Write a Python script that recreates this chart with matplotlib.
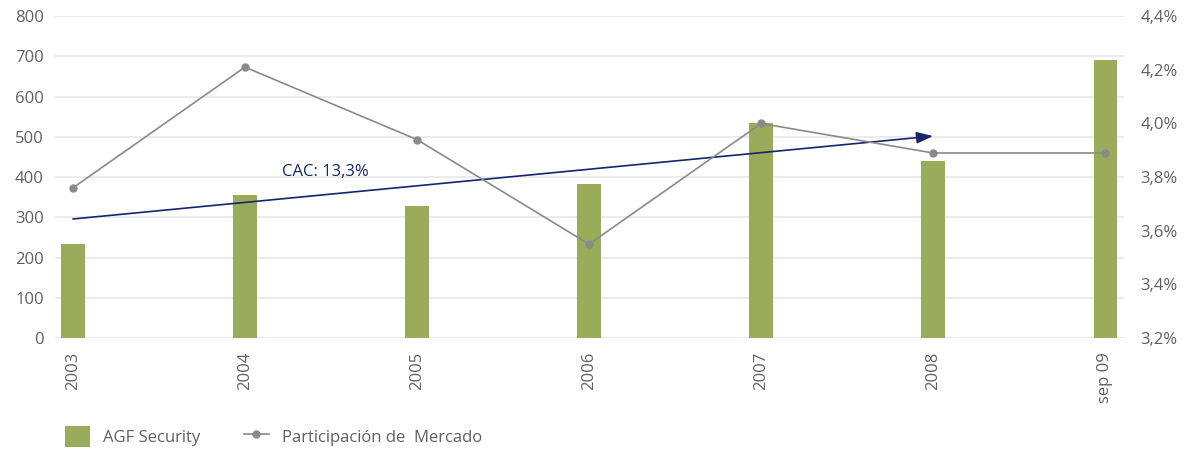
import numpy as np
import matplotlib.pyplot as plt
from matplotlib.ticker import FuncFormatter

plt.rcParams['font.family'] = ['Open Sans', 'DejaVu Sans']

years = ['2003', '2004', '2005', '2006', '2007', '2008', 'sep 09']
agf = [234, 355, 328, 383, 534, 440, 691]
share = [3.76, 4.21, 3.94, 3.55, 4.00, 3.89, 3.89]
cac_start = 296
cac_end = 502
cac_label = 'CAC: 13,3%'

green = '#9aab5a'
grey = '#8a8a8a'
navy = '#15246b'
tick_col = '#606060'

fig = plt.figure(figsize=(11.92, 4.49), dpi=100)
ax1 = fig.add_axes([0.046, 0.247, 0.897, 0.717])
x = np.arange(len(years))

ax1.bar(x, agf, width=0.135, color=green, label='AGF Security', zorder=2)
ax1.set_ylim(0, 800)
ax1.set_yticks(range(0, 801, 100))
ax1.set_xlim(-0.105, 6.11)
ax1.set_xticks(x)
ax1.set_xticklabels(years, rotation=90)
ax1.grid(axis='y', color='#e8e8e8', linewidth=1.2, zorder=0)
ax1.set_axisbelow(True)
for s in ax1.spines.values():
    s.set_visible(False)
ax1.tick_params(length=0, labelsize=12, colors=tick_col, pad=8)
ax1.tick_params(axis='x', pad=10)

ax2 = ax1.twinx()
ax2.plot(x, share, color=grey, linewidth=1.2, marker='o', markersize=5,
         label='Participación de  Mercado', zorder=3)
ax2.set_ylim(3.2, 4.4)
ax2.set_yticks(np.arange(3.2, 4.41, 0.2))
ax2.yaxis.set_major_formatter(FuncFormatter(lambda v, p: f'{v:.1f}%'.replace('.', ',')))
for s in ax2.spines.values():
    s.set_visible(False)
ax2.tick_params(length=0, labelsize=12, colors=tick_col, pad=12)

# CAC arrow drawn in left-axis units
ax1.annotate('', xy=(5.0, cac_end), xytext=(0, cac_start),
             arrowprops=dict(arrowstyle='-|>,head_length=1.0,head_width=0.35',
                             color=navy, lw=1.2, shrinkA=0, shrinkB=0), zorder=4)
ax1.text(1.47, 412, cac_label, color=navy, fontsize=12, ha='center', va='center')

h1, l1 = ax1.get_legend_handles_labels()
h2, l2 = ax2.get_legend_handles_labels()
fig.legend(h1 + h2, l1 + l2, loc='lower left', bbox_to_anchor=(0.042, -0.028),
           ncol=2, frameon=False, fontsize=12, labelcolor=tick_col,
           handlelength=1.5, handleheight=1.5, columnspacing=2.6)

fig.savefig('out.png', dpi=100)
